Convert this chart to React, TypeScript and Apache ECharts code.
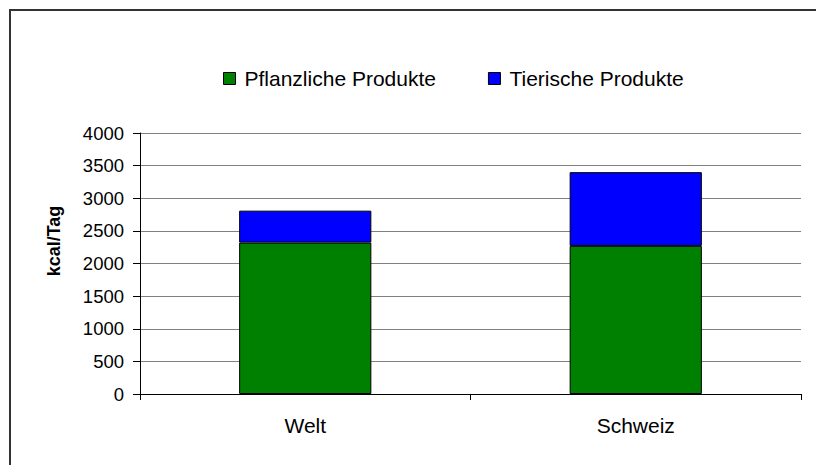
import React, { useEffect, useRef } from "react";
import * as echarts from "echarts";

const categories = ["Welt", "Schweiz"];
const pflanzlich = [2320, 2270];
const tierisch = [490, 1130];
const seriesNames = ["Pflanzliche Produkte", "Tierische Produkte"];
const yAxisTitle = "kcal/Tag";

const FONT = "'Liberation Sans', Arial, sans-serif";

export default function App() {
  const ref = useRef<HTMLDivElement>(null);
  useEffect(() => {
    if (!ref.current) return;
    const chart = echarts.init(ref.current, null, { renderer: "svg" });
    chart.setOption({
      animation: false,
      backgroundColor: "#ffffff",
      textStyle: { fontFamily: FONT },
      legend: {
        left: 223,
        top: 68,
        padding: 0,
        itemWidth: 12,
        itemHeight: 12,
        itemGap: 52,
        icon: "rect",
        textStyle: { fontSize: 21, color: "#000", fontFamily: FONT, padding: [0, 0, 0, 4] },
        data: seriesNames.map((n) => ({ name: n, itemStyle: { borderColor: "#000", borderWidth: 1 } })),
      },
      grid: { left: 140, right: 15, top: 133, bottom: 71, containLabel: false },
      xAxis: {
        type: "category",
        data: categories,
        boundaryGap: true,
        axisLine: { lineStyle: { color: "#000", width: 1 } },
        axisTick: { show: true, alignWithLabel: false, length: 6, lineStyle: { color: "#000" } },
        axisLabel: { color: "#000", fontSize: 21, margin: 21, fontFamily: FONT },
        splitLine: { show: false },
      },
      yAxis: {
        type: "value",
        min: 0,
        max: 4000,
        interval: 500,
        axisLine: { show: true, lineStyle: { color: "#000", width: 1 } },
        axisTick: { show: true, inside: false, length: 7, lineStyle: { color: "#000" } },
        axisLabel: {
          color: "#000",
          fontSize: 18.5,
          margin: 16,
          fontFamily: FONT,
          formatter: (v: number) => String(v),
        },
        splitLine: { show: true, lineStyle: { color: "#808080", width: 1 } },
      },
      series: [
        {
          name: seriesNames[0],
          type: "bar",
          stack: "total",
          data: pflanzlich,
          barWidth: "40%",
          itemStyle: { color: "#008000", borderColor: "#000", borderWidth: 1 },
        },
        {
          name: seriesNames[1],
          type: "bar",
          stack: "total",
          data: tierisch,
          barWidth: "40%",
          itemStyle: { color: "#0000ff", borderColor: "#000", borderWidth: 1 },
        },
      ],
      graphic: [
        {
          type: "text",
          x: 54,
          y: 241,
          rotation: Math.PI / 2,
          style: {
            text: yAxisTitle,
            font: "bold 18px " + FONT,
            fill: "#000",
            align: "center",
            verticalAlign: "middle",
          },
        },
        {
          type: "line",
          shape: { x1: 9, y1: 10, x2: 816, y2: 10 },
          style: { stroke: "#333", lineWidth: 2 },
        },
        {
          type: "line",
          shape: { x1: 10, y1: 9, x2: 10, y2: 465 },
          style: { stroke: "#333", lineWidth: 2 },
        },
      ],
    });
    return () => chart.dispose();
  }, []);
  return (
    <div
      ref={ref}
      style={{ position: "fixed", left: 0, top: 0, width: 816, height: 465 }}
    />
  );
}
